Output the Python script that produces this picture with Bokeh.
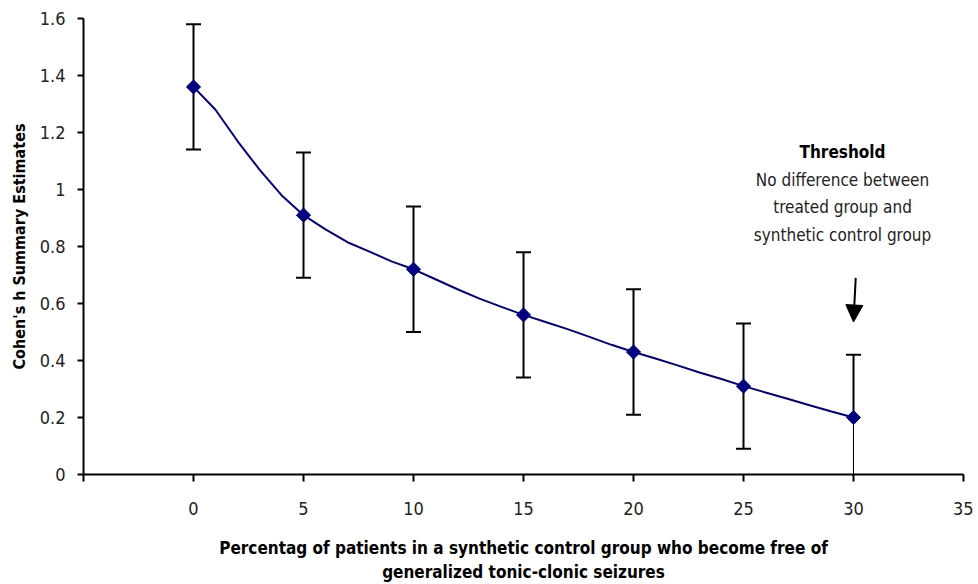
from bokeh.plotting import figure
from bokeh.models import (Range1d, FixedTicker, NumeralTickFormatter, Whisker, TeeHead,
                          ColumnDataSource, Arrow, NormalHead, Label)
from bokeh.embed import file_html
from bokeh.resources import INLINE
import math

# ---- data ----
pct = [0, 5, 10, 15, 20, 25, 30]
cohens_h = [1.36, 0.91, 0.72, 0.56, 0.43, 0.31, 0.20]
ci_half = [0.22, 0.22, 0.22, 0.22, 0.22, 0.22, 0.22]

# smoothed connecting curve as drawn in the picture
curve_x = list(range(0, 31))
curve_y = [1.36, 1.28, 1.17, 1.07, 0.98, 0.91, 0.86, 0.815, 0.782, 0.748,
           0.72, 0.685, 0.65, 0.617, 0.588, 0.56, 0.535, 0.51, 0.483, 0.455,
           0.43, 0.407, 0.383, 0.358, 0.335, 0.31, 0.288, 0.266, 0.243, 0.221, 0.20]

x_ticks = [-5, 0, 5, 10, 15, 20, 25, 30, 35]
y_ticks = [0, 0.2, 0.4, 0.6, 0.8, 1.0, 1.2, 1.4, 1.6]

threshold_title = "Threshold"
threshold_lines = ["No difference between", "treated group and", "synthetic control group"]
threshold_x = 30

x_title = "Percentag of patients in a synthetic control group who become free of\ngeneralized tonic-clonic seizures"
y_title = "Cohen's h Summary Estimates"

FONT = "'Liberation Sans Narrow', 'Arial Narrow', 'DejaVu Sans Condensed', sans-serif"

p = figure(width=973, height=584, x_range=Range1d(-5, 35), y_range=Range1d(0, 1.6),
           output_backend="svg", toolbar_location=None,
           min_border_left=83, min_border_right=10, min_border_top=18, min_border_bottom=110)
p.outline_line_color = None
p.grid.visible = False
p.background_fill_color = "white"
p.border_fill_color = "white"

for ax in (p.xaxis[0], p.yaxis[0]):
    ax.axis_line_color = "black"
    ax.axis_line_width = 2
    ax.major_tick_line_color = "black"
    ax.major_tick_line_width = 2
    ax.major_tick_in = 0
    ax.minor_tick_line_color = None
    ax.major_label_text_font = FONT
    ax.major_label_text_font_size = "18px"
    ax.major_label_text_color = "#222222"
    ax.axis_label_text_font = FONT
    ax.axis_label_text_font_style = "bold"
    ax.axis_label_text_color = "black"

p.xaxis.ticker = FixedTicker(ticks=x_ticks)
p.xaxis.major_label_overrides = {-5: ""}
p.xaxis.major_tick_out = 7
p.xaxis.major_label_standoff = 20
p.xaxis.axis_label = x_title
p.xaxis.axis_label_text_font_size = "17px"
p.xaxis.axis_label_standoff = 20

p.yaxis.ticker = FixedTicker(ticks=y_ticks)
p.yaxis.formatter = NumeralTickFormatter(format="0.[0]")
p.yaxis.major_tick_out = 6
p.yaxis.major_label_standoff = 12
p.yaxis.axis_label = y_title
p.yaxis.axis_label_text_font_size = "16px"
p.yaxis.axis_label_standoff = 8

# error bars
upper = [v + e for v, e in zip(cohens_h, ci_half)]
lower = [max(v - e, 0) for v, e in zip(cohens_h, ci_half)]
full = [i for i in range(len(pct)) if cohens_h[i] - ci_half[i] >= 0]
clip = [i for i in range(len(pct)) if cohens_h[i] - ci_half[i] < 0]

src_full = ColumnDataSource(dict(x=[pct[i] for i in full], up=[upper[i] for i in full],
                                 lo=[lower[i] for i in full]))
p.add_layout(Whisker(source=src_full, base="x", upper="up", lower="lo",
                     line_color="black", line_width=2,
                     upper_head=TeeHead(size=15, line_color="black", line_width=2),
                     lower_head=TeeHead(size=15, line_color="black", line_width=2)))
if clip:
    src_clip = ColumnDataSource(dict(x=[pct[i] for i in clip], up=[upper[i] for i in clip],
                                     mid=[cohens_h[i] for i in clip], lo=[lower[i] for i in clip]))
    p.add_layout(Whisker(source=src_clip, base="x", upper="up", lower="mid",
                         line_color="black", line_width=2,
                         upper_head=TeeHead(size=15, line_color="black", line_width=2),
                         lower_head=None))
    p.segment(x0="x", y0="lo", x1="x", y1="mid", source=src_clip, line_color="black", line_width=1)

# line + markers
p.line(curve_x, curve_y, line_color="#000080", line_width=2)
p.scatter(pct, cohens_h, marker="square", size=10, angle=math.pi / 4,
          fill_color="#000080", line_color="#000080")

# threshold annotation
p.add_layout(Arrow(end=NormalHead(size=17, fill_color="black", line_color="black"),
                   x_start=threshold_x + 0.1, y_start=0.69, x_end=threshold_x, y_end=0.535,
                   line_color="black", line_width=2))
p.add_layout(Label(x=threshold_x - 0.5, y=1.13, text=threshold_title, text_align="center",
                   text_baseline="middle", text_font=FONT, text_font_style="bold",
                   text_font_size="17px", text_color="black"))
for k, t in enumerate(threshold_lines):
    p.add_layout(Label(x=threshold_x - 0.5, y=1.13, y_offset=-(k + 1) * 27.5, text=t,
                       text_align="center", text_baseline="middle", text_font=FONT,
                       text_font_size="17px", text_color="#222222"))

open("out.html", "w").write(file_html(p, INLINE))
